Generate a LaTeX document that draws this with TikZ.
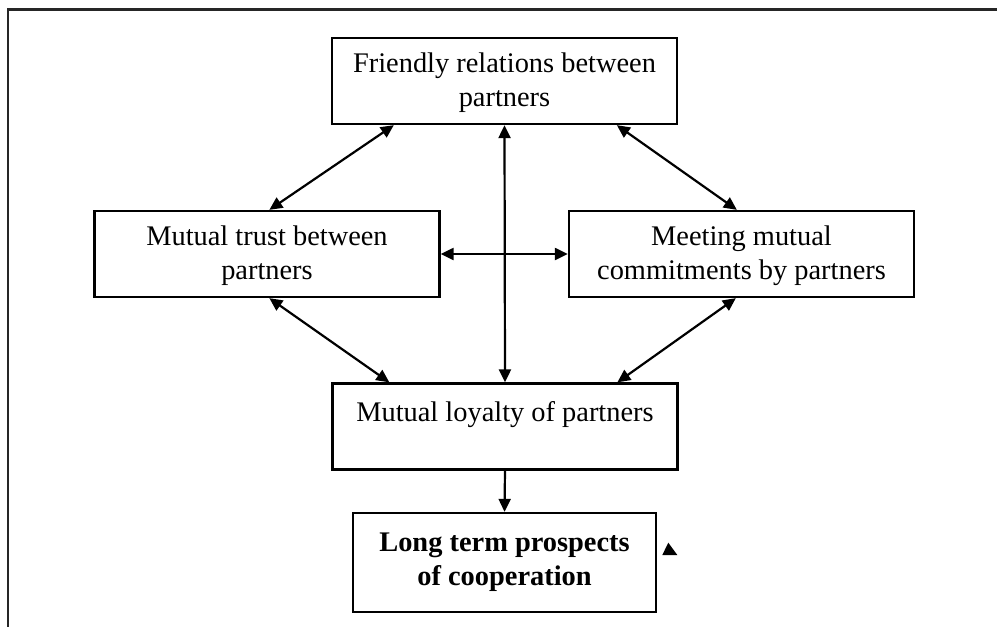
\documentclass[tikz,border=0pt]{standalone}
\usepackage{fontspec}
\setmainfont{Liberation Serif}
\usetikzlibrary{arrows.meta}
\begin{document}
\begin{tikzpicture}[x=1pt,y=1pt,
  box/.style={draw=black, line width=2.3pt, fill=white, inner sep=0pt,
    minimum width=345pt, minimum height=86pt, align=center,
    font=\fontsize{28.4}{34}\selectfont},
  conn/.style={line width=2.2pt, -{Triangle[length=13pt,width=12pt]}},
  bconn/.style={line width=2.2pt, {Triangle[length=13pt,width=12pt]}-{Triangle[length=13pt,width=12pt]}},
  frameline/.style={line width=2.4pt, draw=black!85}]
\useasboundingbox (0,0) rectangle (997,-627);
% outer frame
\coordinate (fa) at (8,-627);
\coordinate (fb) at (8,-9.5);
\coordinate (fc) at (997,-9.5);
\draw[frameline] (fa) -- (fb) -- (fc);
% boxes
\node[box] (top) at (504.5,-81) {\rule{0pt}{23pt}Friendly relations between\\partners};
\node[box] (trust) at (267,-254) {\rule{0pt}{23pt}Mutual trust between\\partners};
\node[box] (meet) at (741.5,-254) {\rule{0pt}{23pt}Meeting mutual\\commitments by partners};
\node[box] (loyal) at (505,-426.5) {\rule{0pt}{23pt}Mutual loyalty of partners\\\mbox{}};
\node[box, minimum width=303pt, minimum height=99pt, font=\fontsize{28.4}{34}\selectfont\bfseries] (long) at (504.5,-562.5) {Long term prospects\\of cooperation};
% connectors
\draw[bconn] (top.south) -- (loyal.north);
\draw[bconn] (trust.east) -- (meet.west);
\draw[bconn] ([xshift=176pt]trust.north west) -- ([xshift=63pt]top.south west);
\draw[bconn] ([xshift=286pt]top.south west) -- ([xshift=169pt]meet.north west);
\draw[bconn] ([xshift=176pt]trust.south west) -- ([xshift=58pt]loyal.north west);
\draw[bconn] ([xshift=168pt]meet.south west) -- ([xshift=286pt]loyal.north west);
\draw[conn] (loyal.south) -- (long.north);
% stray arrowhead
\coordinate (s1) at (668.3,-542.7);
\coordinate (s2) at (662.3,-555);
\coordinate (s3) at (677.3,-555);
\fill[black] (s1) -- (s2) -- (s3) -- cycle;
\end{tikzpicture}
\end{document}
